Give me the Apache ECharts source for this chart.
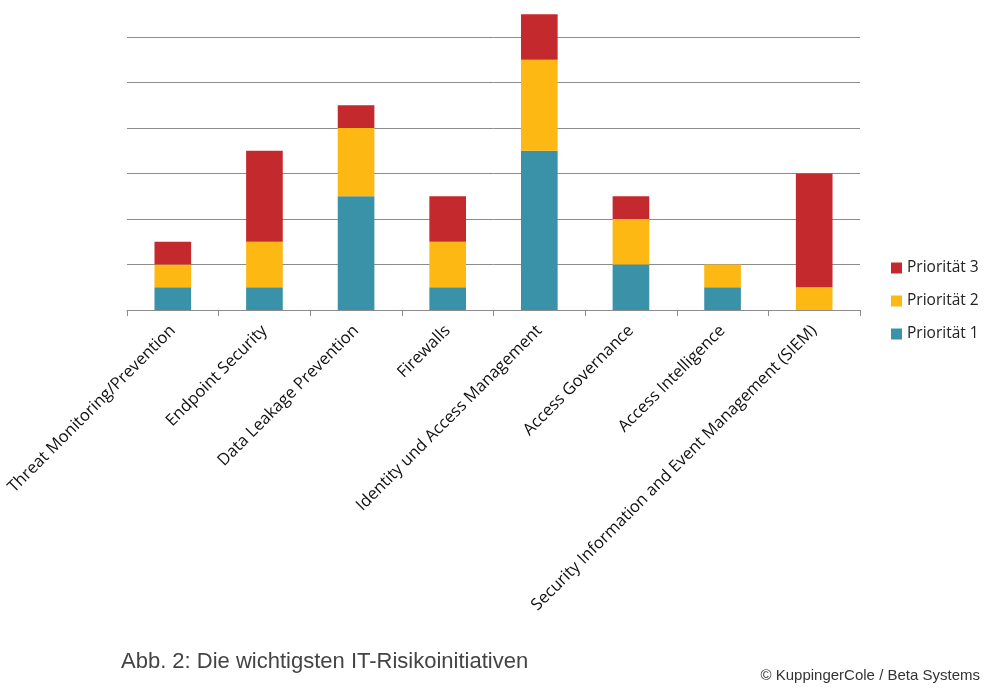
<!DOCTYPE html>
<html>
<head>
<meta charset="utf-8">
<script src="https://cdn.jsdelivr.net/npm/echarts@6/dist/echarts.min.js"></script>
<style>
  html, body { margin: 0; padding: 0; background: #fff; }
  #chart { width: 1000px; height: 700px; }
</style>
</head>
<body>
<div id="chart"></div>
<script>
var categories = [
  'Threat Monitoring/Prevention',
  'Endpoint Security',
  'Data Leakage Prevention',
  'Firewalls',
  'Identity und Access Management',
  'Access Governance',
  'Access Intelligence',
  'Security Information and Event Management (SIEM)'
];
var prio1 = [1, 1, 5, 1, 7, 2, 1, 0];
var prio2 = [1, 2, 3, 2, 4, 2, 1, 1];
var prio3 = [1, 4, 1, 2, 2, 1, 0, 5];
var seriesNames = ['Priorität 1', 'Priorität 2', 'Priorität 3'];
var colors = ['#3A92A8', '#FDB813', '#C4292E'];

var chart = echarts.init(document.getElementById('chart'));

function bar(name, data, color) {
  return {
    name: name,
    type: 'bar',
    stack: 'total',
    barWidth: '40%',
    clip: false,
    itemStyle: { color: color },
    data: data
  };
}

var option = {
  animation: false,
  textStyle: { fontFamily: 'Open Sans, Liberation Sans, sans-serif' },
  grid: { left: 127, right: 140, top: 37, bottom: 390 },
  legend: {
    orient: 'vertical',
    left: 886,
    top: 255,
    itemWidth: 11,
    itemHeight: 11,
    itemGap: 17,
    icon: 'rect',
    textStyle: { fontSize: 15.5, color: '#222', fontFamily: 'Open Sans, sans-serif' },
    data: ['Priorität 3', 'Priorität 2', 'Priorität 1']
  },
  xAxis: {
    type: 'category',
    data: categories,
    axisLine: { lineStyle: { color: '#8c8c8c', width: 1 } },
    axisTick: { show: true, length: 6, lineStyle: { color: '#8c8c8c' } },
    axisLabel: {
      rotate: 45,
      interval: 0,
      margin: 18,
      fontSize: 16.5,
      color: '#111',
      fontFamily: 'Open Sans, sans-serif'
    }
  },
  yAxis: {
    type: 'value',
    min: 0,
    max: 12,
    interval: 2,
    axisLine: { show: false },
    axisTick: { show: false },
    axisLabel: { show: false },
    splitLine: { lineStyle: { color: '#8c8c8c', width: 1 } }
  },
  series: [
    bar(seriesNames[0], prio1, colors[0]),
    bar(seriesNames[1], prio2, colors[1]),
    bar(seriesNames[2], prio3, colors[2])
  ],
  graphic: [
    {
      type: 'text',
      left: 121,
      top: 651,
      style: {
        text: 'Abb. 2: Die wichtigsten IT-Risikoinitiativen',
        fontSize: 22,
        fill: '#444',
        fontFamily: 'Liberation Sans, sans-serif'
      }
    },
    {
      type: 'text',
      right: 20,
      top: 668,
      style: {
        text: '© KuppingerCole / Beta Systems',
        fontSize: 15,
        fill: '#333',
        fontFamily: 'Liberation Sans, sans-serif'
      }
    }
  ]
};

chart.setOption(option);
</script>
</body>
</html>
